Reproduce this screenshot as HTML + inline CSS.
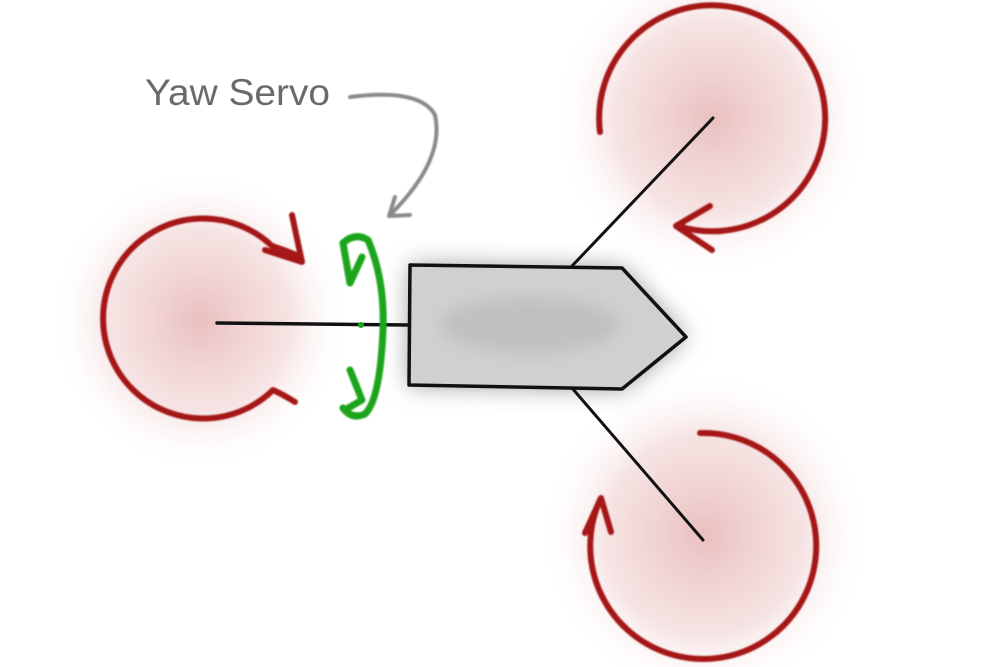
<!DOCTYPE html>
<html><head><meta charset="utf-8"><style>
html,body{margin:0;padding:0;background:#fff;}
svg{display:block;}
</style></head><body>
<svg width="1000" height="667" viewBox="0 0 1000 667" xmlns="http://www.w3.org/2000/svg">
<defs>
<radialGradient id="rg" cx="50%" cy="50%" r="50%">
<stop offset="0" stop-color="#e6b4b4" stop-opacity="0.85"/>
<stop offset="0.6" stop-color="#efcccc" stop-opacity="0.55"/>
<stop offset="1" stop-color="#fff" stop-opacity="0"/>
</radialGradient>
<filter id="b1" x="-20%" y="-20%" width="140%" height="140%"><feGaussianBlur stdDeviation="12"/></filter>
<filter id="b2" x="-20%" y="-20%" width="140%" height="140%"><feGaussianBlur stdDeviation="8"/></filter>
<filter id="s1"><feGaussianBlur stdDeviation="0.8"/></filter>
</defs>
<rect width="1000" height="667" fill="#fff"/>
<circle cx="200" cy="320" r="150" fill="url(#rg)"/>
<circle cx="712" cy="118" r="160" fill="url(#rg)"/>
<circle cx="705" cy="535" r="165" fill="url(#rg)"/>
<polygon points="410,265 622,268 686,337 622,389 409,385" fill="#999" filter="url(#b1)"/>
<polygon points="410,265 622,268 686,337 622,389 409,385" fill="#d0d0d0"/>
<ellipse cx="530" cy="325" rx="90" ry="28" fill="#c0c0c0" filter="url(#b2)"/>
<g stroke="#111" stroke-linecap="round" fill="none">
<line x1="217" y1="323" x2="409" y2="325" stroke-width="3.5"/>
<line x1="572" y1="266" x2="713" y2="118" stroke-width="3"/>
<line x1="572" y1="388" x2="703" y2="540" stroke-width="3"/>
<polygon points="410,265 622,268 686,337 622,389 409,385" stroke-width="3.5" stroke-linejoin="round"/>
</g>
<g stroke="#a51414" stroke-width="6" fill="none" stroke-linecap="round" stroke-linejoin="round" filter="url(#s1)">
<path d="M295,402 Q284,395 273,390 A100,100 0 1 1 272,246 Q290,252 298,256"/>
<path d="M265,250 L302,262 L292,215"/>
<path d="M600,132 A113,113 0 1 1 678,226"/>
<path d="M710,206 L676,226 L712,250"/>
<path d="M700,433 A113,113 0 1 1 600,500"/>
<path d="M585,533 L601,498 L611,532"/>
</g>
<g stroke="#1aa51a" stroke-width="7" fill="none" stroke-linecap="round" stroke-linejoin="round" filter="url(#s1)">
<path d="M343,243 Q355,232 368,240 Q385,280 383,330 Q380,400 365,414 Q352,420 343,408"/>
<path d="M343,243 L350,283 L362,257"/>
<path d="M350,370 L362,400 L345,410"/>
</g>
<circle cx="361" cy="325" r="3" fill="#1aa51a"/>
<g stroke="#8a8a8a" stroke-width="4" fill="none" stroke-linecap="round" stroke-linejoin="round" filter="url(#s1)">
<path d="M350,97 Q420,88 435,115 Q445,160 391,214"/>
<path d="M395,197 L389,216 L410,215"/>
</g>
<text x="145" y="105" font-family="Liberation Sans, sans-serif" font-size="37" fill="#6a6a6a" textLength="185" lengthAdjust="spacingAndGlyphs">Yaw Servo</text>
</svg>
</body></html>
